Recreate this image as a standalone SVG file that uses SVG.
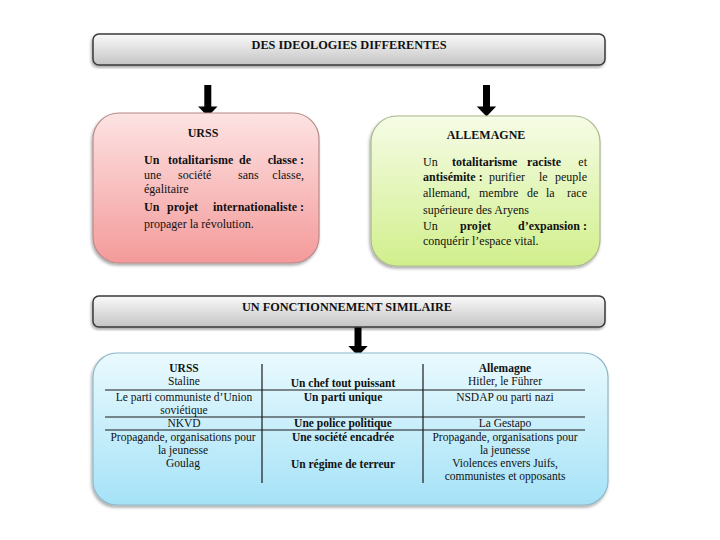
<svg xmlns="http://www.w3.org/2000/svg" width="720" height="540" viewBox="0 0 720 540" font-family="'Liberation Serif', 'Times New Roman', serif">
<style>
  text { font-family: "Liberation Serif", "Times New Roman", serif; fill: #111; }
  .hdr { font-size: 12px; font-weight: bold; text-anchor: middle; }
  .body { font-size: 12px; }
  .b { font-weight: bold; }
  .tbl { font-size: 11.5px; text-anchor: middle; }
  .hbox { fill: url(#gGray); stroke: #3a3a3a; stroke-width: 1.5; }
  .line { stroke: #1a1a1a; stroke-width: 1.2; }
  .arrow { fill: #000; }
</style>
<defs>
  <linearGradient id="gGray" x1="0" y1="0" x2="0" y2="1">
    <stop offset="0" stop-color="#fafafa"/>
    <stop offset="1" stop-color="#c4c4c4"/>
  </linearGradient>
  <linearGradient id="gPink" x1="0" y1="0" x2="0" y2="1">
    <stop offset="0" stop-color="#fde3e3"/>
    <stop offset="1" stop-color="#f49a9a"/>
  </linearGradient>
  <linearGradient id="gGreen" x1="0" y1="0" x2="0" y2="1">
    <stop offset="0" stop-color="#f6fce6"/>
    <stop offset="1" stop-color="#d1ef8c"/>
  </linearGradient>
  <linearGradient id="gBlue" x1="0" y1="0" x2="0" y2="1">
    <stop offset="0" stop-color="#eafafe"/>
    <stop offset="1" stop-color="#a5e2f7"/>
  </linearGradient>
  <filter id="sh" x="-5%" y="-5%" width="110%" height="115%">
    <feDropShadow dx="-1" dy="2" stdDeviation="1.5" flood-color="#000" flood-opacity="0.35"/>
  </filter>
</defs>

<g id="header1">
  <rect class="hbox" x="93" y="34" width="512" height="31" rx="6" filter="url(#sh)"/>
  <text class="hdr" x="349" y="49" textLength="195" lengthAdjust="spacingAndGlyphs">DES IDEOLOGIES DIFFERENTES</text>
</g>

<g id="connectors">
  <path class="arrow" d="M204.3,85 H211.3 V106.5 H217.5 L207.8,116.5 L198.1,106.5 H204.3 Z"/>
  <path class="arrow" d="M483,85 H490 V106.5 H496.2 L486.5,116.5 L476.8,106.5 H483 Z"/>
  <path class="arrow" d="M354.5,325 H361.5 V346 H367.7 L358,356 L348.3,346 H354.5 Z"/>
</g>

<g id="urss">
  <rect x="93" y="113" width="226" height="150" rx="26" fill="url(#gPink)" stroke="#b88a8a" stroke-width="1.2" filter="url(#sh)"/>
  <text class="body b" x="203" y="137" text-anchor="middle">URSS</text>
  <text class="body b" y="164"><tspan x="144">Un</tspan><tspan x="168">totalitarisme</tspan><tspan x="239">de</tspan></text>
  <text class="body b" x="304" y="164" text-anchor="end">classe :</text>
  <text class="body" y="179"><tspan x="144">une</tspan><tspan x="178">société</tspan><tspan x="238">sans</tspan></text>
  <text class="body" x="304" y="179" text-anchor="end">classe,</text>
  <text class="body" x="144" y="193">égalitaire</text>
  <text class="body b" y="211"><tspan x="144">Un</tspan><tspan x="167">projet</tspan></text>
  <text class="body b" x="304" y="211" text-anchor="end">internationaliste :</text>
  <text class="body" x="144" y="228">propager la révolution.</text>
</g>

<g id="allemagne">
  <rect x="371" y="116" width="229" height="150" rx="26" fill="url(#gGreen)" stroke="#a9b98a" stroke-width="1.2" filter="url(#sh)"/>
  <text class="body b" x="486" y="139" text-anchor="middle">ALLEMAGNE</text>
  <text class="body" y="166"><tspan x="423">Un</tspan><tspan x="452" class="b">totalitarisme</tspan><tspan x="527" class="b">raciste</tspan></text>
  <text class="body" x="587" y="166" text-anchor="end">et</text>
  <text class="body" y="181"><tspan x="423" class="b">antisémite :</tspan><tspan x="489">purifier</tspan><tspan x="539">le</tspan></text>
  <text class="body" x="587" y="181" text-anchor="end">peuple</text>
  <text class="body" y="197"><tspan x="423">allemand,</tspan><tspan x="479">membre</tspan><tspan x="527">de</tspan><tspan x="546">la</tspan></text>
  <text class="body" x="587" y="197" text-anchor="end">race</text>
  <text class="body" x="423" y="214">supérieure des Aryens</text>
  <text class="body" y="230"><tspan x="423">Un</tspan><tspan x="460" class="b">projet</tspan></text>
  <text class="body b" x="587" y="230" text-anchor="end">d’expansion :</text>
  <text class="body" x="423" y="245">conquérir l’espace vital.</text>
</g>

<g id="header2">
  <rect class="hbox" x="93" y="296" width="512" height="31" rx="6" filter="url(#sh)"/>
  <text class="hdr" x="347" y="311" textLength="210" lengthAdjust="spacingAndGlyphs">UN FONCTIONNEMENT SIMILAIRE</text>
</g>

<g id="comparaison">
  <rect x="93" y="353" width="515" height="152" rx="24" fill="url(#gBlue)" stroke="#8fb8c8" stroke-width="1.2" filter="url(#sh)"/>
  <line class="line" x1="262" y1="364" x2="262" y2="483"/>
  <line class="line" x1="423" y1="364" x2="423" y2="483"/>
  <line class="line" x1="105" y1="390" x2="585" y2="390"/>
  <line class="line" x1="105" y1="417" x2="585" y2="417"/>
  <line class="line" x1="105" y1="430" x2="585" y2="430"/>

  <text class="tbl b" x="184" y="372">URSS</text>
  <text class="tbl" x="184" y="385">Staline</text>
  <text class="tbl" x="184" y="401">Le parti communiste d’Union</text>
  <text class="tbl" x="184" y="414">soviétique</text>
  <text class="tbl" x="184" y="427">NKVD</text>
  <text class="tbl" x="183" y="441">Propagande, organisations pour</text>
  <text class="tbl" x="183" y="454">la jeunesse</text>
  <text class="tbl" x="183" y="467">Goulag</text>

  <text class="tbl b" x="343" y="387">Un chef tout puissant</text>
  <text class="tbl b" x="343" y="401">Un parti unique</text>
  <text class="tbl b" x="343" y="427">Une police politique</text>
  <text class="tbl b" x="343" y="441">Une société encadrée</text>
  <text class="tbl b" x="343" y="468">Un régime de terreur</text>

  <text class="tbl b" x="505" y="372">Allemagne</text>
  <text class="tbl" x="505" y="385">Hitler, le Führer</text>
  <text class="tbl" x="505" y="401">NSDAP ou parti nazi</text>
  <text class="tbl" x="505" y="427">La Gestapo</text>
  <text class="tbl" x="505" y="441">Propagande, organisations pour</text>
  <text class="tbl" x="505" y="454">la jeunesse</text>
  <text class="tbl" x="505" y="467">Violences envers Juifs,</text>
  <text class="tbl" x="505" y="480">communistes et opposants</text>
</g>
</svg>
